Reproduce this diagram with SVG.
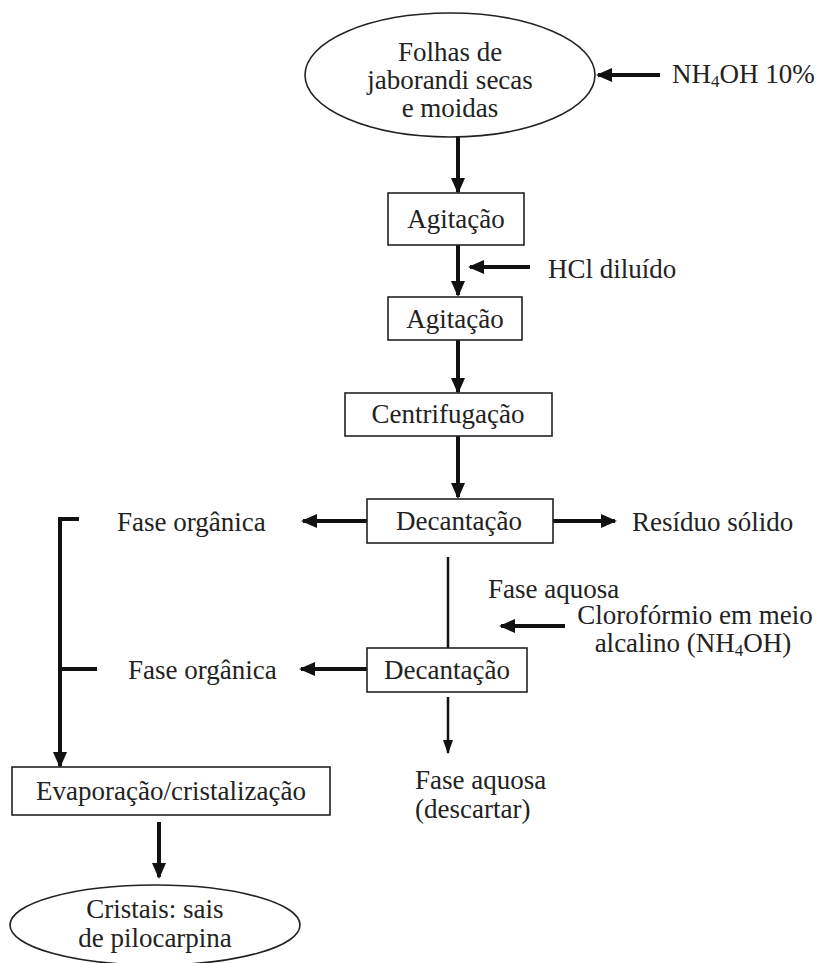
<svg xmlns="http://www.w3.org/2000/svg" width="817" height="963" viewBox="0 0 817 963">
<style>
text{font-family:"Liberation Serif","Times New Roman",serif;font-size:27px;fill:#222}
.c{text-anchor:middle}
.box{fill:#fff;stroke:#222;stroke-width:1.6}
.h{stroke:#111;stroke-width:4;fill:none}
.t{stroke:#111;stroke-width:2.5;fill:none}
.sub{font-size:17px}
</style>
<defs>
<marker id="ah" markerWidth="16" markerHeight="14" refX="14" refY="7" orient="auto" markerUnits="userSpaceOnUse"><path d="M0,0L16,7L0,14z" fill="#111"/></marker>
<marker id="at" markerWidth="14" markerHeight="10" refX="13" refY="5" orient="auto" markerUnits="userSpaceOnUse"><path d="M0,0L14,5L0,10z" fill="#111"/></marker>
</defs>
<rect width="817" height="963" fill="#fff"/>
<g id="connectors">
<path class="h" d="M660,75H598" marker-end="url(#ah)"/>
<path class="h" d="M458,137V192" marker-end="url(#ah)"/>
<path class="h" d="M458,245V295" marker-end="url(#ah)"/>
<path class="h" d="M530,267H470" marker-end="url(#ah)"/>
<path class="h" d="M458,340V392" marker-end="url(#ah)"/>
<path class="h" d="M458,436V497" marker-end="url(#ah)"/>
<path class="h" d="M367,521H303" marker-end="url(#ah)"/>
<path class="h" d="M553,521H615" marker-end="url(#ah)"/>
<path class="h" d="M79,519H60V766" marker-end="url(#ah)"/>
<path class="h" d="M60,669H97"/>
<path class="t" d="M448,557V663" marker-end="url(#at)"/>
<path class="h" d="M565,626H501" marker-end="url(#ah)"/>
<path class="h" d="M367,669H301" marker-end="url(#ah)"/>
<path class="t" d="M448,697V753" marker-end="url(#at)"/>
<path class="h" d="M159,822V877" marker-end="url(#ah)"/>
</g>
<g id="folhas">
<ellipse cx="450" cy="75" rx="145" ry="62" fill="#fff" stroke="#222" stroke-width="1.6"/>
<text class="c" x="450" y="61">Folhas de</text>
<text class="c" x="450" y="89">jaborandi secas</text>
<text class="c" x="450" y="117">e moidas</text>
</g>
<g id="nh4oh"><text x="672" y="83">NH<tspan class="sub" dy="4">4</tspan><tspan dy="-4">OH 10%</tspan></text></g>
<g id="agitacao1"><rect class="box" x="388" y="193" width="136" height="52"/><text class="c" x="456" y="228">Agitação</text></g>
<g id="hcl"><text x="548" y="278">HCl diluído</text></g>
<g id="agitacao2"><rect class="box" x="388" y="297" width="134" height="43"/><text class="c" x="455" y="328">Agitação</text></g>
<g id="centrifugacao"><rect class="box" x="345" y="393" width="207" height="43"/><text class="c" x="448" y="423">Centrifugação</text></g>
<g id="decantacao1"><rect class="box" x="367" y="499" width="186" height="44"/><text class="c" x="459" y="530">Decantação</text></g>
<g id="faseorg1"><text x="117" y="531">Fase orgânica</text></g>
<g id="residuo"><text x="632" y="531">Resíduo sólido</text></g>
<g id="faseaq1"><text x="488" y="598">Fase aquosa</text></g>
<g id="cloroformio"><text class="c" x="695" y="624">Clorofórmio em meio</text><text class="c" x="693" y="652">alcalino (NH<tspan class="sub" dy="4">4</tspan><tspan dy="-4">OH)</tspan></text></g>
<g id="decantacao2"><rect class="box" x="367" y="648" width="160" height="44"/><text class="c" x="447" y="679">Decantação</text></g>
<g id="faseorg2"><text x="128" y="679">Fase orgânica</text></g>
<g id="faseaq2"><text x="415" y="789">Fase aquosa</text><text x="415" y="818">(descartar)</text></g>
<g id="evaporacao"><rect class="box" x="12" y="767" width="318" height="48"/><text class="c" x="171" y="800">Evaporação/cristalização</text></g>
<g id="cristais">
<ellipse cx="155" cy="925" rx="145" ry="40" fill="#fff" stroke="#222" stroke-width="1.6"/>
<text class="c" x="155" y="918">Cristais: sais</text>
<text class="c" x="155" y="947">de pilocarpina</text>
</g>
</svg>
